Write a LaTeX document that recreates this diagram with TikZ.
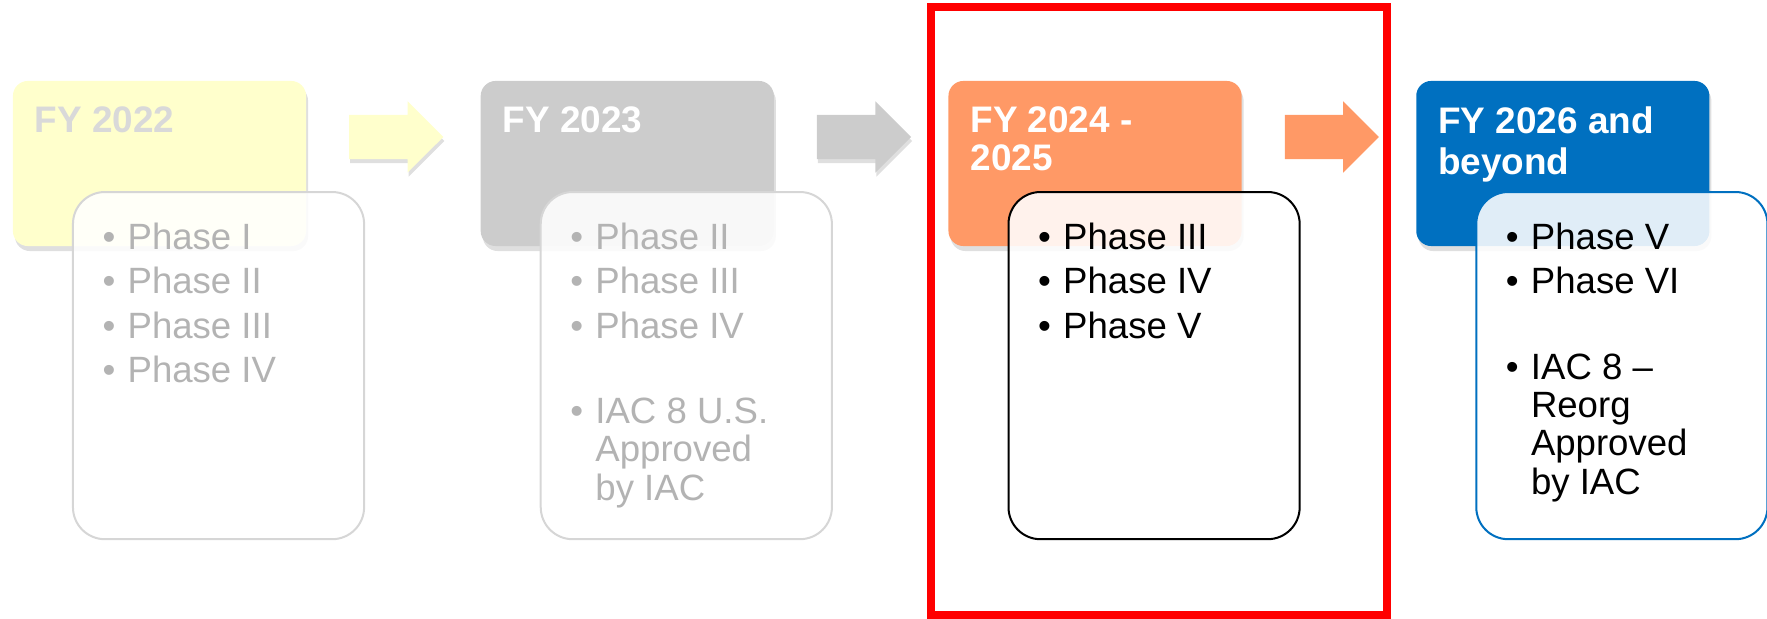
\documentclass[tikz,border=0pt]{standalone}
\usepackage{fontspec}
\setmainfont{Liberation Sans}
\usetikzlibrary{shapes,shapes.arrows,positioning,shadows}

\definecolor{fyyellow}{HTML}{FFFFCC}
\definecolor{fygray}{HTML}{CCCCCC}
\definecolor{fyorange}{HTML}{FF9966}
\definecolor{fyblue}{HTML}{0070C0}
\definecolor{fadetext}{HTML}{B3B3B3}
\definecolor{fadeline}{HTML}{D6D6D6}
\definecolor{hdrfade}{HTML}{D9D9D9}

\newcommand{\bul}{\makebox[0.25cm][l]{\textbullet}}
\newcommand{\hang}{\hspace*{0.25cm}}

\begin{document}
\begin{tikzpicture}[%
x=0.01cm, y=-0.01cm,
node distance=4.675cm,
on grid,
year/.style={rectangle, rounded corners=0.15cm, minimum width=2.93cm, minimum height=1.65cm, drop shadow={opacity=0.25, shadow xshift=0.02cm, shadow yshift=-0.05cm}},
yeartext/.style={anchor=north west, inner sep=0pt, align=left, text=white, font=\fontsize{10.5pt}{10.8pt}\selectfont\bfseries},
phases/.style={rectangle, rounded corners=0.32cm, minimum width=2.91cm, minimum height=3.47cm, fill=white, fill opacity=0.88, text opacity=1, line width=0.02cm},
phasetext/.style={anchor=north west, inner sep=0pt, align=left, font=\fontsize{10.4pt}{10.9pt}\selectfont},
blockarrow/.style={single arrow, single arrow head extend=0.135cm, minimum height=0.94cm, inner xsep=0pt, inner ysep=0.215cm}
]
\useasboundingbox (0,0) rectangle (1767,619);

% year headers
\node[year, fill=fyyellow] (h22) at (159.5,163.5) {};
\node[year, fill=fygray] (h23) [right=of h22] {};
\node[year, fill=fyorange] (h24) [right=of h23] {};
\node[year, fill=fyblue] (h26) [right=of h24] {};

\node[yeartext, text=hdrfade] (h22t) at ([shift={(22,25.4)}]h22.north west) {\strut FY 2022};
\node[yeartext] (h23t) at ([shift={(22,25.4)}]h23.north west) {\strut FY 2023};
\node[yeartext] (h24t) at ([shift={(22,25.4)}]h24.north west) {\strut FY 2024 -\\2025};
\node[yeartext] (h26t) at ([shift={(22,25.4)}]h26.north west) {\strut FY 2026 and\\beyond};

% phase boxes
\node[phases, draw=fadeline] (d22) [below right=2.02cm and 0.59cm of h22] {};
\node[phases, draw=fadeline] (d23) [below right=2.02cm and 0.59cm of h23] {};
\node[phases, draw=black] (d24) [below right=2.02cm and 0.59cm of h24] {};
\node[phases, draw=fyblue] (d26) [below right=2.02cm and 0.59cm of h26] {};

\node[phasetext, text=fadetext] (d22t) at ([shift={(30,31)}]d22.north west)
  {\strut\bul Phase I\\[0.06cm]\bul Phase II\\[0.06cm]\bul Phase III\\[0.06cm]\bul Phase IV};
\node[phasetext, text=fadetext] (d23t) at ([shift={(30,31)}]d23.north west)
  {\strut\bul Phase II\\[0.06cm]\bul Phase III\\[0.06cm]\bul Phase IV\\[0.47cm]\bul IAC 8 U.S.\\\hang Approved\\\hang by IAC};
\node[phasetext] (d24t) at ([shift={(30,31)}]d24.north west)
  {\strut\bul Phase III\\[0.06cm]\bul Phase IV\\[0.06cm]\bul Phase V};
\node[phasetext] (d26t) at ([shift={(30,31)}]d26.north west)
  {\strut\bul Phase V\\[0.06cm]\bul Phase VI\\[0.47cm]\bul IAC 8 \textendash\\\hang Reorg\\\hang Approved\\\hang by IAC};

% arrows between years
\node[blockarrow, fill=fyyellow, drop shadow={opacity=0.25, shadow xshift=0.01cm, shadow yshift=-0.04cm}] (a1) [above right=0.265cm and 2.255cm of h22] {};
\node[blockarrow, fill=fygray, drop shadow={opacity=0.25, shadow xshift=0.01cm, shadow yshift=-0.04cm}] (a2) [above right=0.265cm and 2.255cm of h23] {};
\node[blockarrow, fill=fyorange] (a3) [above right=0.265cm and 2.255cm of h24] {};

% current period
\node[draw=red, line width=0.08cm, minimum width=4.56cm, minimum height=6.08cm] (now) at (1159,311) {};
\end{tikzpicture}
\end{document}
